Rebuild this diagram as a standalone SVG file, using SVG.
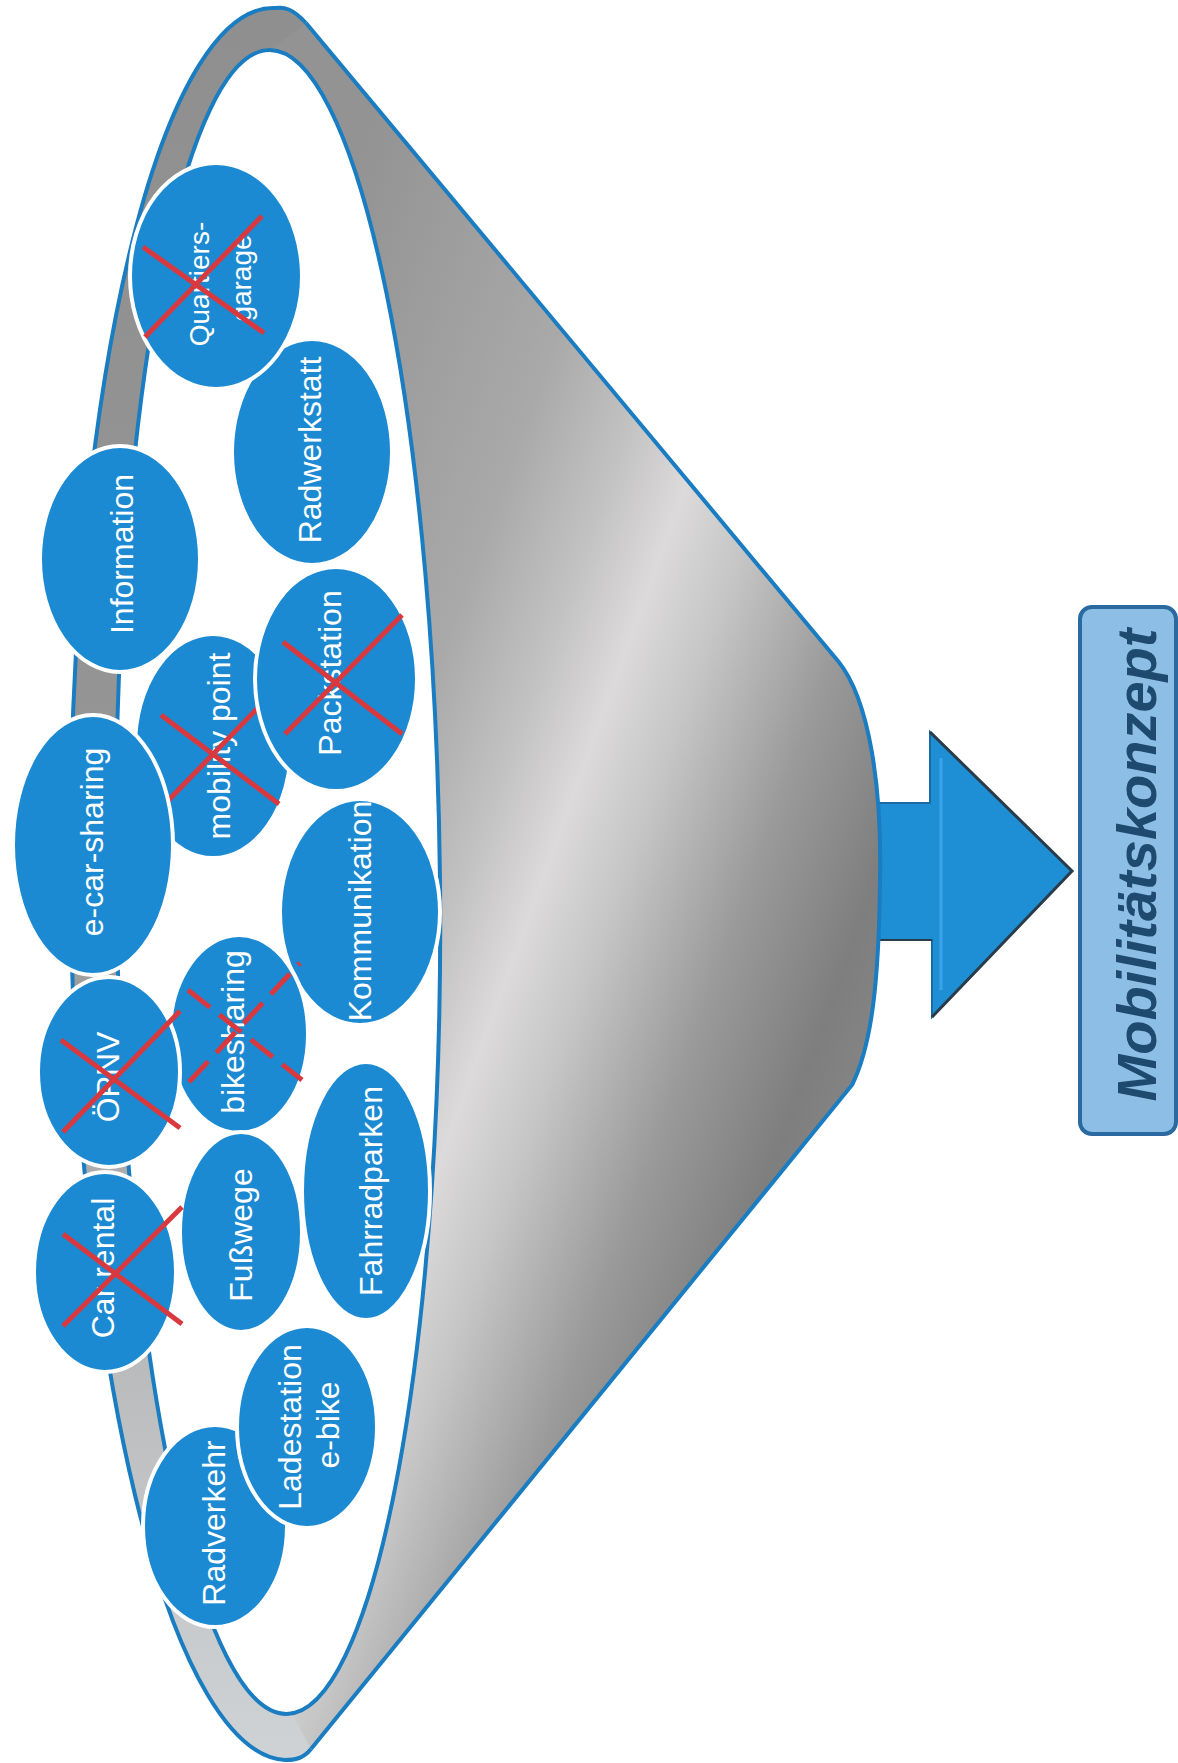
<svg xmlns="http://www.w3.org/2000/svg" width="1178" height="1763" viewBox="0 0 1178 1763">
<defs>
<linearGradient id="rimGrad" gradientUnits="userSpaceOnUse" x1="0" y1="0" x2="0" y2="1763">
<stop offset="0" stop-color="#8f8f8f"/>
<stop offset="0.5" stop-color="#969696"/>
<stop offset="0.8" stop-color="#bdbebf"/>
<stop offset="1" stop-color="#cfd3d5"/>
</linearGradient>
<linearGradient id="coneGrad" gradientUnits="userSpaceOnUse" x1="185" y1="640" x2="955" y2="920">
<stop offset="0" stop-color="#939393"/>
<stop offset="0.3" stop-color="#a9a9a9"/>
<stop offset="0.42" stop-color="#c3c2c2"/>
<stop offset="0.51" stop-color="#dcdada"/>
<stop offset="0.6" stop-color="#c6c6c6"/>
<stop offset="0.75" stop-color="#9a9a9a"/>
<stop offset="0.893" stop-color="#7e7e7e"/>
<stop offset="1" stop-color="#888888"/>
</linearGradient>
<style>
.node ellipse{fill:#1b8ad2;stroke:#ffffff;stroke-width:4}
.lbl{font-family:"Liberation Sans",Arial,sans-serif;font-size:32px;fill:#ffffff;text-anchor:middle}
.sm{font-size:28px}
.x{stroke:#d8393f;stroke-width:5;fill:none}
.xd{stroke-dasharray:28 12}
.blue{stroke:#1a7cc1;stroke-width:4}
</style>
</defs>
<rect x="0" y="0" width="1178" height="1763" fill="#ffffff"/>

<g id="funnel-rim">
<path d="M306 23 C292 8 284 7 276 8 A210 876 -0.5 0 0 285 1760 C294 1760 303 1759 311 1749 Z" fill="url(#rimGrad)"/>
<path d="M306 23 C292 8 284 7 276 8 A210 876 -0.5 0 0 285 1760 C294 1760 303 1759 311 1749" fill="none" class="blue"/>
</g>

<g id="connectors">
<polygon points="866,803 930,803 930,732 1072,871 932,1017 932,940 866,940" fill="#1e8fd5" stroke="#1a6aa3" stroke-width="2"/>
<polyline points="941,758 941,990" fill="none" stroke="#3aa4e8" stroke-width="3"/>
<polyline points="930,732 1072,871 932,1017" fill="none" stroke="#2a3c4a" stroke-width="3"/>
<line x1="866" y1="940" x2="932" y2="940" stroke="#2a3c4a" stroke-width="2"/>
</g>

<g id="funnel-cone">
<path d="M306 23 L838 661 C870 700 882 790 880 880 C879 980 872 1045 852 1085 L311 1749 L291 1712 L268 52 Z" fill="url(#coneGrad)"/>
<path d="M306 23 L838 661 C870 700 882 790 880 880 C879 980 872 1045 852 1085 L311 1749" fill="none" class="blue"/>
<ellipse cx="278" cy="882" rx="162" ry="832" transform="rotate(-0.6 278 882)" fill="#ffffff" class="blue"/>
</g>

<g id="n-radwerkstatt" class="node">
<ellipse cx="312" cy="452" rx="80" ry="113"/>
<text class="lbl" transform="translate(310 450) rotate(-90)" y="11">Radwerkstatt</text>
</g>
<g id="n-quartiersgarage" class="node">
<ellipse cx="216" cy="276" rx="86" ry="113"/>
<text class="lbl sm" transform="translate(199 284) rotate(-90)" y="10">Quartiers-</text>
<text class="lbl sm" transform="translate(241 278) rotate(-90)" y="10">garage</text>
<line class="x" x1="143" y1="247" x2="264" y2="333"/>
<line class="x" x1="145" y1="337" x2="262" y2="216"/>
</g>
<g id="n-information" class="node">
<ellipse cx="120" cy="559" rx="80" ry="113"/>
<text class="lbl" transform="translate(122 554) rotate(-90)" y="11">Information</text>
</g>
<g id="n-mobilitypoint" class="node">
<ellipse cx="213" cy="746" rx="78" ry="112"/>
<text class="lbl" transform="translate(219 746) rotate(-90)" y="11">mobility point</text>
<line class="x" x1="161" y1="715" x2="279" y2="804"/>
<line class="x" x1="161" y1="808" x2="277" y2="688"/>
</g>
<g id="n-packstation" class="node">
<ellipse cx="336" cy="679" rx="81" ry="112"/>
<text class="lbl" transform="translate(330 673) rotate(-90)" y="11">Packstation</text>
<line class="x" x1="283" y1="642" x2="402" y2="734"/>
<line class="x" x1="285" y1="734" x2="402" y2="615"/>
</g>
<g id="n-ecarsharing" class="node">
<ellipse cx="93" cy="845" rx="80" ry="130"/>
<text class="lbl" transform="translate(92 842) rotate(-90)" y="11">e-car-sharing</text>
</g>
<g id="n-kommunikation" class="node">
<ellipse cx="360" cy="912" rx="80" ry="113"/>
<text class="lbl" transform="translate(360 911) rotate(-90)" y="11">Kommunikation</text>
</g>
<g id="n-bikesharing" class="node">
<ellipse cx="239" cy="1034" rx="69" ry="99"/>
<text class="lbl" transform="translate(233 1032) rotate(-90)" y="11">bikesharing</text>
<line class="x xd" x1="188" y1="990" x2="302" y2="1080"/>
<line class="x xd" x1="189" y1="1082" x2="300" y2="963"/>
</g>
<g id="n-oepnv" class="node">
<ellipse cx="109" cy="1072" rx="71" ry="95"/>
<text class="lbl" transform="translate(108 1077) rotate(-90)" y="11">ÖPNV</text>
<line class="x" x1="61" y1="1040" x2="180" y2="1128"/>
<line class="x" x1="63" y1="1132" x2="180" y2="1011"/>
</g>
<g id="n-fahrradparken" class="node">
<ellipse cx="366" cy="1191" rx="64" ry="129"/>
<text class="lbl" transform="translate(371 1191) rotate(-90)" y="11">Fahrradparken</text>
</g>
<g id="n-fusswege" class="node">
<ellipse cx="241" cy="1232" rx="61" ry="100"/>
<text class="lbl" transform="translate(241 1235) rotate(-90)" y="11">Fußwege</text>
</g>
<g id="n-carrental" class="node">
<ellipse cx="105" cy="1272" rx="71" ry="100"/>
<text class="lbl" transform="translate(103 1268) rotate(-90)" y="11">Car rental</text>
<line class="x" x1="63" y1="1234" x2="182" y2="1324"/>
<line class="x" x1="63" y1="1326" x2="182" y2="1207"/>
</g>
<g id="n-radverkehr" class="node">
<ellipse cx="215" cy="1526" rx="72" ry="101"/>
<text class="lbl" transform="translate(214 1523) rotate(-90)" y="11">Radverkehr</text>
</g>
<g id="n-ladestation" class="node">
<ellipse cx="307" cy="1427" rx="70" ry="101"/>
<text class="lbl" transform="translate(290 1427) rotate(-90)" y="11">Ladestation</text>
<text class="lbl" transform="translate(328 1425) rotate(-90)" y="11">e-bike</text>
</g>

<g id="n-mobilitaetskonzept">
<rect x="1080" y="607" width="96" height="527" rx="12" ry="12" fill="#8dbfe6" stroke="#2a6aa0" stroke-width="4"/>
<text transform="translate(1135 865) rotate(-90)" y="21" font-family="'Liberation Sans',Arial,sans-serif" font-size="56" font-weight="bold" font-style="italic" fill="#1f4a70" text-anchor="middle">Mobilitätskonzept</text>
</g>
</svg>
